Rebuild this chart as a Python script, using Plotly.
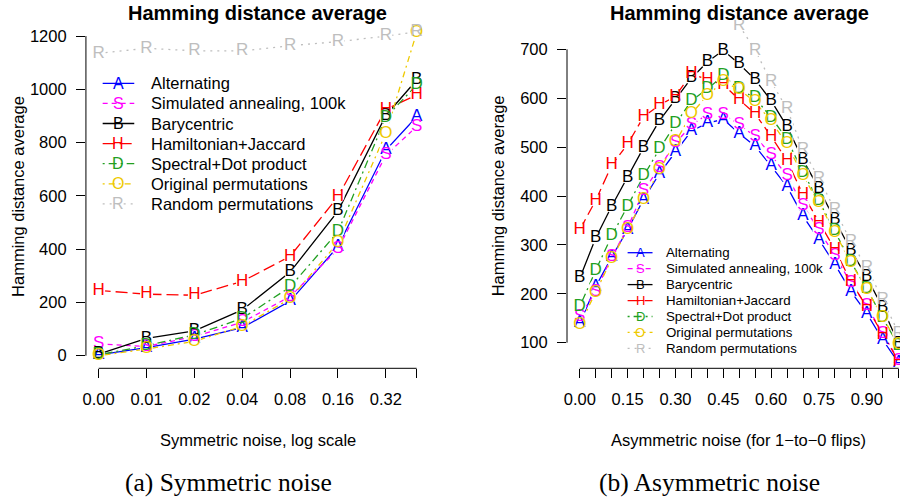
import math
import plotly.graph_objects as go

W, H = 900, 497

# ---------------- data: (a) symmetric noise ----------------
sym_x = [0.005, 0.01, 0.02, 0.04, 0.08, 0.16, 0.32, 0.5]
sym_ticktext = ["0.00", "0.01", "0.02", "0.04", "0.08", "0.16", "0.32", ""]
sym_yticks = [0, 200, 400, 600, 800, 1000, 1200]
sym_A = [3, 30, 62, 105, 205, 410, 772, 897]
sym_S = [44, 35, 72, 126, 222, 400, 753, 860]
sym_B = [6, 65, 93, 172, 314, 543, 902, 1035]
sym_H = [245, 231, 227, 279, 373, 597, 925, 979]
sym_D = [3, 38, 78, 140, 258, 465, 895, 1016]
sym_O = [0, 25, 54, 110, 214, 424, 835, 1213]
sym_R = [1135, 1154, 1145, 1144, 1164, 1179, 1200, 1216]

# ---------------- data: (b) asymmetric noise ----------------
asym_x = [0.00, 0.05, 0.10, 0.15, 0.20, 0.25, 0.30, 0.35, 0.40, 0.45, 0.50,
          0.55, 0.60, 0.65, 0.70, 0.75, 0.80, 0.85, 0.90, 0.95, 1.00]
asym_ticktext = ["0.00", "", "", "0.15", "", "", "0.30", "", "", "0.45", "",
                 "", "0.60", "", "", "0.75", "", "", "0.90", "", ""]
asym_yticks = [100, 200, 300, 400, 500, 600, 700]
asym_A = [140, 215, 275, 331, 393, 446, 490, 533, 549, 557, 528, 502, 461, 419, 359, 311, 260, 205, 160, 106, 58]
asym_S = [153, 205, 275, 335, 410, 458, 508, 545, 567, 567, 546, 522, 484, 441, 381, 330, 278, 222, 175, 119, 64]
asym_B = [232, 314, 379, 438, 499, 554, 598, 641, 674, 698, 670, 638, 595, 542, 474, 415, 351, 289, 234, 171, 97]
asym_H = [331, 391, 463, 506, 562, 586, 604, 650, 638, 628, 597, 568, 522, 472, 403, 346, 291, 225, 173, 117, 62]
asym_D = [174, 248, 318, 379, 441, 496, 547, 595, 619, 646, 619, 600, 561, 516, 448, 390, 328, 265, 211, 150, 94]
asym_O = [136, 203, 271, 332, 393, 453, 510, 568, 606, 634, 618, 592, 553, 506, 441, 386, 325, 264, 209, 151, 95]
asym_R = [None] * 10 + [749, 698, 634, 578, 495, 436, 372, 307, 253, 188, 119]

names = ["Alternating", "Simulated annealing, 100k", "Barycentric", "Hamiltonian+Jaccard",
         "Spectral+Dot product", "Original permutations", "Random permutations"]
letters = ["A", "S", "B", "H", "D", "O", "R"]
colors = ["#0000FF", "#FF00FF", "#000000", "#FF0000", "#22A022", "#EEC900", "#BEBEBE"]
dashes = ["solid", "5px,4px", "solid", "12px,5px", "2px,4px,8px,4px", "2px,4px,6px,4px", "2px,5px"]
sym_vals = [sym_A, sym_S, sym_B, sym_H, sym_D, sym_O, sym_R]
asym_vals = [asym_A, asym_S, asym_B, asym_H, asym_D, asym_O, asym_R]

FONT = "Liberation Sans, Arial, Helvetica, sans-serif"
SERIF = "Liberation Serif, Times New Roman, serif"

def px(x):
    return x / W

def py(y):
    return 1 - y / H

fig = go.Figure()

panels = [("x", "y", sym_x, sym_vals), ("x2", "y2", asym_x, asym_vals)]
for xa, ya, xs, vals in panels:
    # lines
    for i in range(7):
        fig.add_trace(go.Scatter(x=xs, y=vals[i], mode="lines", xaxis=xa, yaxis=ya,
                                 line=dict(color=colors[i], width=1.3, dash=dashes[i]),
                                 showlegend=False, hoverinfo="skip"))
    # white masks (gaps around point symbols, like type="b")
    for i in range(7):
        fig.add_trace(go.Scatter(x=xs, y=vals[i], mode="markers", xaxis=xa, yaxis=ya,
                                 marker=dict(color="white", size=13, line=dict(width=0)),
                                 showlegend=False, hoverinfo="skip"))
    # letters
    for i in range(7):
        fig.add_trace(go.Scatter(x=xs, y=vals[i], mode="text", xaxis=xa, yaxis=ya,
                                 text=[letters[i]] * len(xs), textposition="middle center",
                                 textfont=dict(family=FONT, size=17, color=colors[i]),
                                 showlegend=False, name=names[i]))

axis_common = dict(showgrid=False, zeroline=False, showline=False, ticks="outside",
                   ticklen=9, tickwidth=1, tickcolor="#000",
                   tickfont=dict(family=FONT, size=16.5, color="#000"))

fig.update_layout(
    width=W, height=H, margin=dict(l=0, r=0, t=0, b=0),
    paper_bgcolor="white", plot_bgcolor="white", showlegend=False,
    xaxis=dict(domain=[px(83.2), px(427.8)], type="log", anchor="y",
               range=[math.log10(sym_x[0]) - 0.08, math.log10(sym_x[-1]) + 0.08],
               tickmode="array", tickvals=sym_x, ticktext=sym_ticktext,
               ticklabelstandoff=7, **axis_common),
    yaxis=dict(domain=[py(368.3), py(17.7)], anchor="x", range=[-47.3, 1269],
               tickmode="array", tickvals=sym_yticks, ticklabelstandoff=6, **axis_common),
    xaxis2=dict(domain=[px(565.9), 1.0], anchor="y2", range=[-0.04, 1.0041],
                tickmode="array", tickvals=asym_x, ticktext=asym_ticktext,
                ticklabelstandoff=7, **axis_common),
    yaxis2=dict(domain=[py(368.3), py(20)], anchor="x2", range=[47.6, 760],
                tickmode="array", tickvals=asym_yticks, ticklabelstandoff=6, **axis_common),
)

shapes = []
# R-style axis lines spanning first..last tick
shapes.append(dict(type="line", xref="x domain", yref="y", x0=0, x1=0,
                   y0=sym_yticks[0], y1=sym_yticks[-1], line=dict(color="#000", width=1)))
shapes.append(dict(type="line", xref="x", yref="y domain", x0=sym_x[0], x1=sym_x[-1],
                   y0=0, y1=0, line=dict(color="#000", width=1)))
shapes.append(dict(type="line", xref="x2 domain", yref="y2", x0=0, x1=0,
                   y0=asym_yticks[0], y1=asym_yticks[-1], line=dict(color="#000", width=1)))
shapes.append(dict(type="line", xref="x2", yref="y2 domain", x0=asym_x[0], x1=asym_x[-1],
                   y0=0, y1=0, line=dict(color="#000", width=1)))

annotations = []
def ann(text, x, y, size, family=FONT, bold=False, xanchor="center", angle=0, color="#000"):
    t = f"<b>{text}</b>" if bold else text
    annotations.append(dict(text=t, x=px(x), y=py(y), xref="paper", yref="paper",
                            showarrow=False, xanchor=xanchor, yanchor="middle",
                            textangle=angle, font=dict(family=family, size=size, color=color)))

# titles
ann("Hamming distance average", 255.5, 13, 20, bold=True)
ann("Hamming distance average", 738.5, 13, 20, bold=True)
# axis titles
ann("Hamming distance average", 15, 196, 16.5, angle=-90)
ann("Hamming distance average", 497, 196, 16.5, angle=-90)
ann("Symmetric noise, log scale", 256, 440, 16.5)
ann("Asymmetric noise (for 1\u2212to\u22120 flips)", 738, 440, 16.5)
# captions
ann("(a) Symmetric noise", 226, 482, 25.5, family=SERIF)
ann("(b) Asymmetric noise", 709, 482, 25.5, family=SERIF)

# legends
legends = [dict(x0=100, x1=131.7, tx=146, y0=83.3, dy=20.1, size=16.5, lsize=16),
           dict(x0=626.7, x1=651.7, tx=663.3, y0=252.7, dy=15.95, size=13.3, lsize=13)]
for lg in legends:
    for i in range(7):
        yy = lg["y0"] + i * lg["dy"]
        shapes.append(dict(type="line", xref="paper", yref="paper",
                           x0=px(lg["x0"]), x1=px(lg["x1"]), y0=py(yy), y1=py(yy),
                           line=dict(color=colors[i], width=1.3, dash=dashes[i])))
        ann(letters[i], (lg["x0"] + lg["x1"]) / 2, yy, lg["lsize"], color=colors[i])
        ann(names[i], lg["tx"], yy, lg["size"], xanchor="left")

fig.update_layout(shapes=shapes, annotations=annotations)
fig.write_html("out.html")
